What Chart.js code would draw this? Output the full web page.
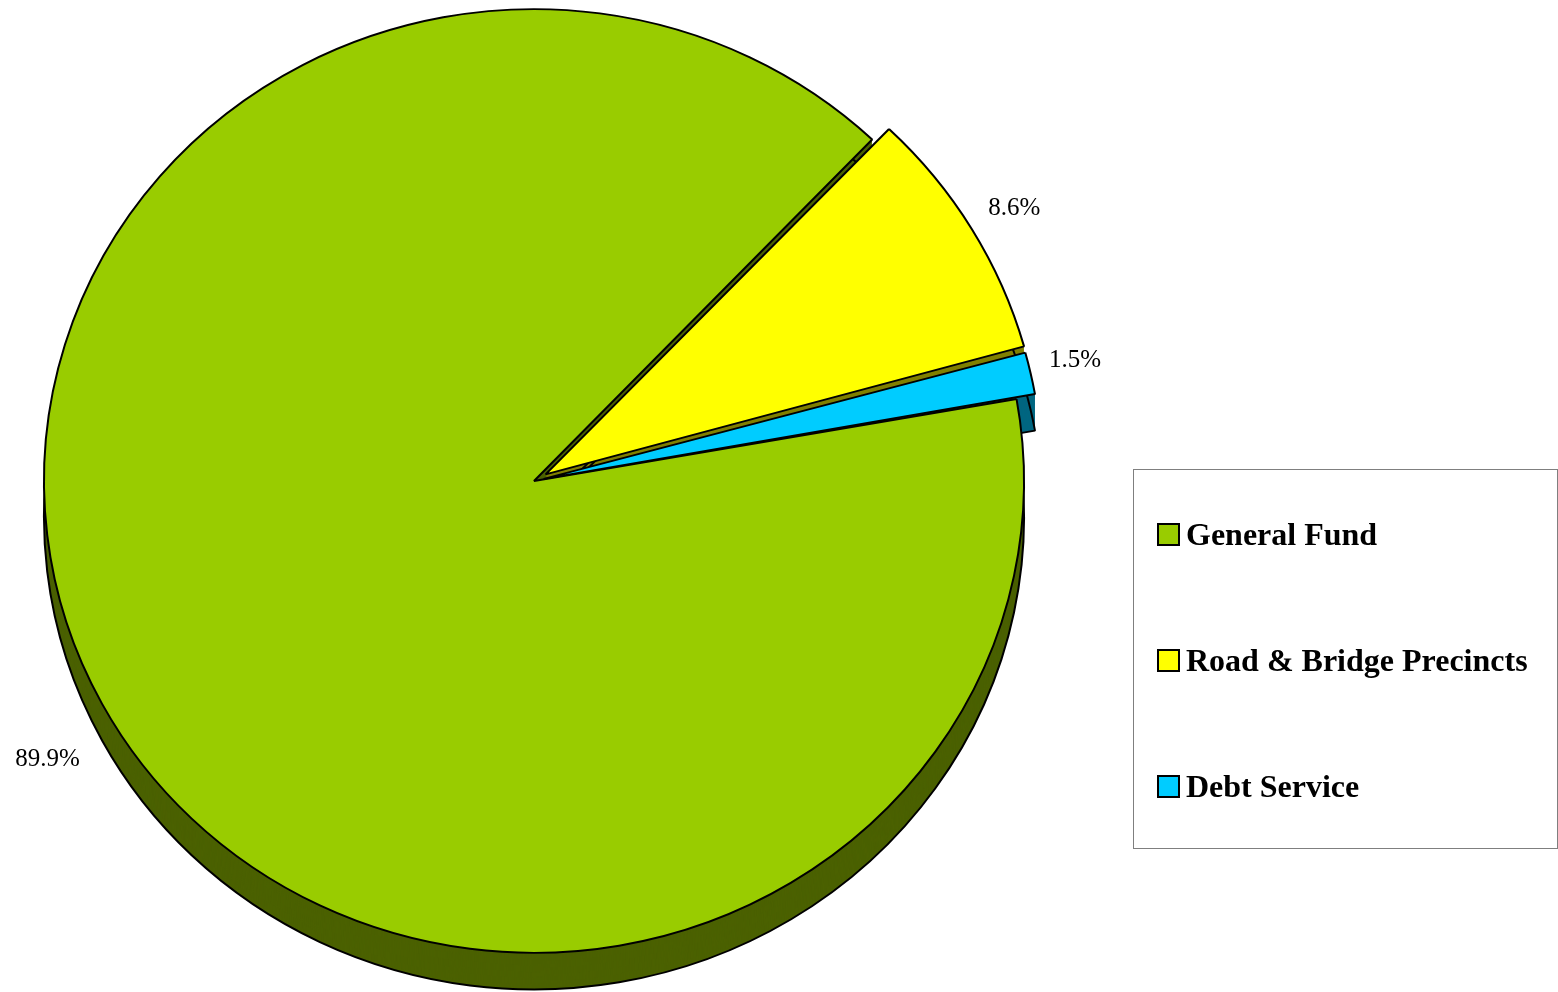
<!DOCTYPE html>
<html><head><meta charset="utf-8">
<script src="https://cdn.jsdelivr.net/npm/chart.js@4"></script>
<style>
html,body{margin:0;padding:0;background:#fff;}
#wrap{position:relative;width:1558px;height:992px;overflow:hidden;}
#c{position:absolute;left:0;top:0;}
#legend{position:absolute;left:1133px;top:469px;width:423px;height:378px;border:1px solid #7f7f7f;font-family:"Liberation Serif","Times New Roman",serif;font-weight:bold;font-size:32px;color:#000;}
.item{position:absolute;left:23px;display:flex;align-items:center;height:40px;white-space:nowrap;}
.sw{width:19px;height:19px;border:2px solid #000;margin-right:6px;box-sizing:content-box;}
</style></head>
<body>
<div id="wrap">
<canvas id="c" width="1558" height="992"></canvas>
<div id="legend"></div>
</div>
<script>
const categories = ['General Fund', 'Road & Bridge Precincts', 'Debt Service'];
const values = [89.9, 8.6, 1.5];
const percentLabels = ['89.9%', '8.6%', '1.5%'];
const colors = ['#99CC00', '#FFFF00', '#00CCFF'];
const sideColors = ['#4B6100', '#808000', '#006680'];

// legend (HTML)
const leg = document.getElementById('legend');
categories.forEach((c, i) => {
  const d = document.createElement('div');
  d.className = 'item';
  d.style.top = (44 + i * 126) + 'px';
  const s = document.createElement('div');
  s.className = 'sw';
  s.style.background = colors[i];
  const t = document.createElement('span');
  t.textContent = c;
  d.appendChild(s); d.appendChild(t);
  leg.appendChild(d);
});

const pie3d = {
  id: 'pie3d',
  beforeDatasetsDraw(chart, args, opts) {
    const ctx = chart.ctx;
    const meta = chart.getDatasetMeta(0);
    const a0 = meta.data[0];
    const cx = a0.x, cy = a0.y;
    ctx.save();
    ctx.translate(cx, cy); ctx.scale(1, opts.squash); ctx.translate(-cx, -cy);
    const drawArc = (arc, d, o) => {
      const saved = arc.options;
      arc.options = Object.assign({}, saved, o);
      ctx.save(); ctx.translate(0, d); arc.draw(ctx); ctx.restore();
      arc.options = saved;
    };
    for (let d = opts.depth; d >= 1; d--) {
      meta.data.forEach((arc, i) => drawArc(arc, d, {backgroundColor: sideColors[i], borderWidth: 0}));
    }
    meta.data.forEach((arc, i) => drawArc(arc, opts.depth, {backgroundColor: 'rgba(0,0,0,0)', borderColor: '#000', borderWidth: 2}));
  },
  afterDatasetsDraw(chart) { chart.ctx.restore(); }
};

const pctLabels = {
  id: 'pctLabels',
  afterDraw(chart, args, opts) {
    const ctx = chart.ctx;
    const meta = chart.getDatasetMeta(0);
    ctx.save();
    ctx.font = opts.font;
    ctx.fillStyle = '#000';
    ctx.textAlign = 'center';
    ctx.textBaseline = 'middle';
    meta.data.forEach((arc, i) => {
      const mid = (arc.startAngle + arc.endAngle) / 2;
      const r = arc.outerRadius;
      const f = opts.factors[i];
      const x = arc.x + Math.cos(mid) * r * f[0];
      const y = arc.y + Math.sin(mid) * r * opts.squash * f[1];
      ctx.fillText(percentLabels[i], x, y);
    });
    ctx.restore();
  }
};

new Chart(document.getElementById('c'), {
  type: 'pie',
  data: {
    labels: categories,
    datasets: [{
      data: values,
      backgroundColor: colors,
      borderColor: '#000',
      borderWidth: 2,
      offset: [0, 54, 40],
      clip: false
    }]
  },
  options: {
    responsive: false,
    animation: false,
    events: [],
    rotation: 80,
    radius: 490,
    layout: {padding: {left: 44, right: 534, top: 0, bottom: 30}},
    plugins: {
      legend: {display: false},
      tooltip: {enabled: false},
      pie3d: {squash: 0.963, depth: 38},
      pctLabels: {squash: 0.963, font: '25px "Liberation Serif", "Times New Roman", serif',
        factors: [[1.126, 1.25], [1.142, 1.126], [1.132, 1.166]]}
    }
  },
  plugins: [pie3d, pctLabels]
});
</script>
</body></html>
